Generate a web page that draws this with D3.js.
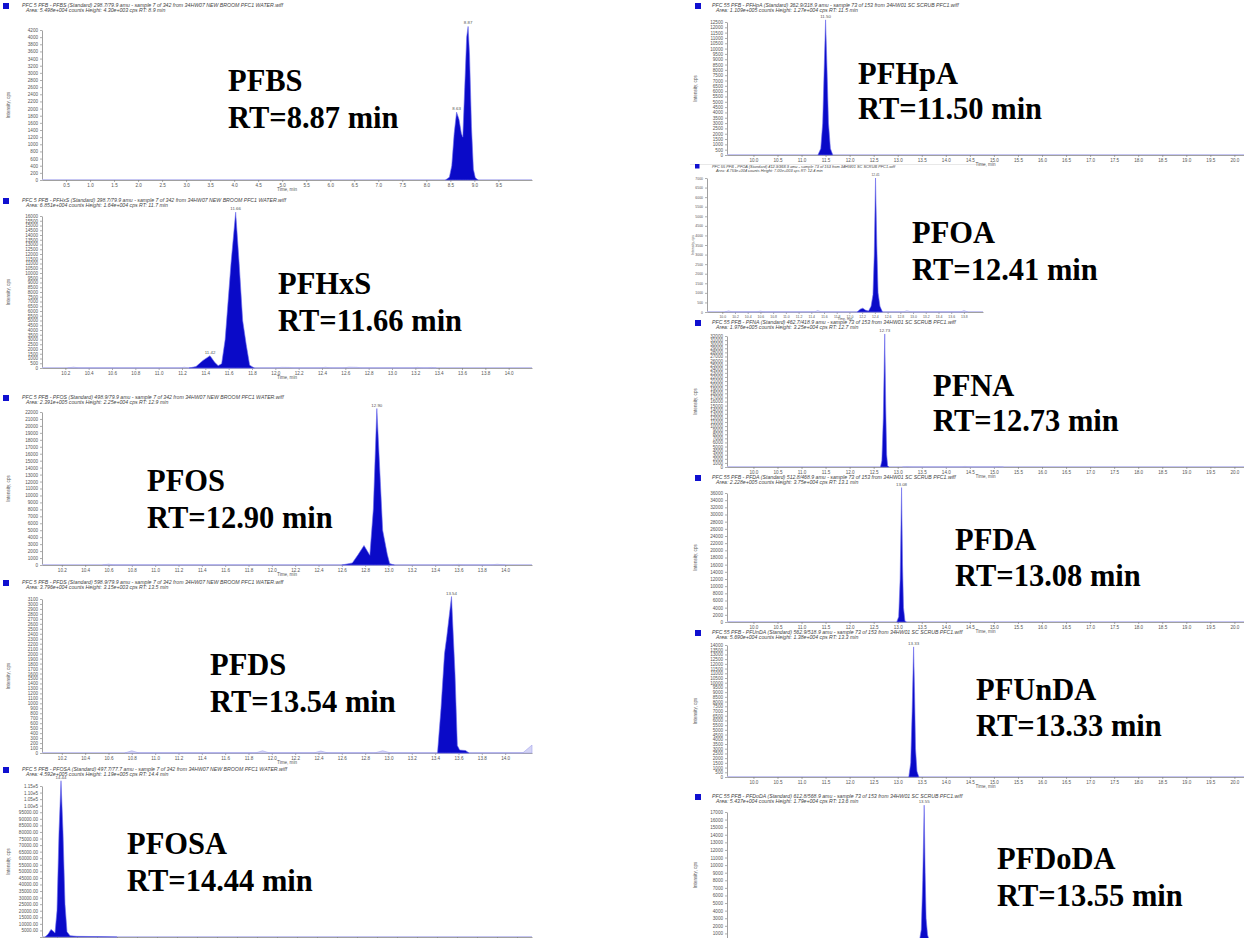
<!DOCTYPE html>
<html>
<head>
<meta charset="utf-8">
<script src="https://cdn.jsdelivr.net/npm/d3@7"></script>
<style>
  body { margin: 0; background: #fff; }
  svg { display: block; }
  .tick text { font-family: "Liberation Sans", Arial, sans-serif; fill: #555; }
  .tick line { stroke: #777; stroke-width: 0.6; }
  .domain { stroke: #888; stroke-width: 0.8; }
</style>
</head>
<body>
<svg id="chart" width="1244" height="938"></svg>
<script>
// compounds, in panel order (left column, then right column)
const compounds = ['PFBS', 'PFHxS', 'PFOS', 'PFDS', 'PFOSA',
                   'PFHpA', 'PFOA', 'PFNA', 'PFDA', 'PFUnDA', 'PFDoDA'];
const retention = ['8.87', '11.66', '12.90', '13.54', '14.44',
                   '11.50', '12.41', '12.73', '13.08', '13.33', '13.55'];

// time axis of each trace (min)
const xDomains = [[0, 10.2], [10, 14.2], [10.03, 14.23], [10.03, 14.23], [14.25, 19.15],
                  [9.45, 20.2], [9.76, 14.1], [9.45, 20.2], [9.45, 20.2], [9.45, 20.2], [9.45, 20.2]];
const xTickStart = [0.5, 10.2, 10.2, 10.2, 14.4, 10.0, 10.0, 10.0, 10.0, 10.0, 10.0];
const xTickEnd   = [9.5, 14.0, 14.0, 14.0, 19.0, 20.0, 13.8, 20.0, 20.0, 20.0, 20.0];
const xTickStep  = [0.5, 0.2, 0.2, 0.2, 0.2, 0.5, 0.2, 0.5, 0.5, 0.5, 0.5];

// intensity axis (cps)
const yTickMax  = [4200, 16000, 22000, 3100, 115000, 12500, 7000, 32000, 36000, 14000, 17000];
const yTickStep = [200, 500, 1000, 100, 5000, 500, 500, 1000, 2000, 500, 1000];

// peaks: [time, intensity]
const pfbsPeak = [[8.40,0],[8.48,80],[8.53,400],[8.58,1300],[8.63,1900],[8.68,1700],[8.73,1300],
  [8.76,1200],[8.80,2600],[8.84,4000],[8.87,4300],[8.90,3500],[8.94,1500],[8.98,300],[9.02,60],[9.08,0]];
const pfhxsPeak = [[11.26,0],[11.32,150],[11.38,800],[11.44,1300],[11.48,600],[11.51,250],[11.54,450],
  [11.57,3000],[11.62,11000],[11.66,16400],[11.69,11000],[11.72,5000],[11.75,2500],[11.78,300],[11.82,0]];
const pfosPeak = [[12.60,0],[12.69,300],[12.74,1500],[12.79,2800],[12.84,1400],[12.87,8000],[12.90,22500],
  [12.93,12000],[12.95,5000],[12.99,1500],[13.01,200],[13.05,0]];
const pfdsPeak = [[13.42,0],[13.45,900],[13.48,2000],[13.50,2350],[13.54,3150],[13.57,1600],[13.59,150],
  [13.61,60],[13.66,50],[13.69,0]];
const pfosaPeak = [[14.28,0],[14.31,2000],[14.34,5800],[14.36,4500],[14.38,3000],[14.40,20000],[14.42,80000],
  [14.44,119000],[14.46,80000],[14.48,25000],[14.50,4000],[14.53,1000],[14.60,500],[14.80,300],[15.00,0]];
const pfhpaPeak = [[11.34,0],[11.40,600],[11.44,3000],[11.47,8000],[11.50,12700],[11.53,8000],[11.56,3000],
  [11.60,600],[11.65,0]];
const pfoaPeak = [[12.12,0],[12.17,150],[12.21,200],[12.25,100],[12.30,50],[12.34,300],[12.37,900],
  [12.39,3000],[12.41,7000],[12.43,3500],[12.45,1000],[12.48,300],[12.52,0]];
const pfnaPeak = [[12.64,0],[12.67,1500],[12.70,12000],[12.73,32500],[12.75,15000],[12.77,3000],
  [12.79,300],[12.82,0]];
const pfdaPeak = [[12.98,0],[13.02,1500],[13.05,12000],[13.08,37500],[13.10,16000],[13.12,4000],
  [13.15,300],[13.18,0]];
const pfundaPeak = [[13.23,0],[13.27,1500],[13.30,7000],[13.33,13800],[13.35,9000],[13.37,3000],
  [13.40,600],[13.44,0]];
const pfdodaPeak = [[13.45,0],[13.49,1500],[13.52,8000],[13.55,17900],[13.57,9000],[13.59,3000],
  [13.62,800],[13.66,0]];
const peaks = [pfbsPeak, pfhxsPeak, pfosPeak, pfdsPeak, pfosaPeak,
               pfhpaPeak, pfoaPeak, pfnaPeak, pfdaPeak, pfundaPeak, pfdodaPeak];

// faint baseline bumps seen along the traces: [time, intensity]
const pfhxsNoise = [[10.22,0],[10.27,90],[10.32,0],[11.18,0],[11.22,80],[11.26,0],[12.0,0],[12.05,70],
  [12.12,60],[12.16,0],[12.38,0],[12.43,80],[12.48,0],[12.58,0],[12.63,90],[12.70,70],[12.74,0],
  [13.18,0],[13.22,70],[13.26,0],[13.30,0],[13.34,60],[13.38,0]];
const pfosNoise = [[10.55,0],[10.6,120],[10.65,0],[13.55,0],[13.6,90],[13.65,0],[13.88,0],[13.93,110],[14.0,0]];
const pfdsNoise = [[10.74,0],[10.8,45],[10.86,0],[11.86,0],[11.92,45],[11.98,0],[12.36,0],[12.42,40],
  [12.48,0],[12.88,0],[12.95,45],[13.02,0],[14.15,0],[14.23,160]];
const pfoaNoise = [[10.04,0],[10.1,60],[10.16,0],[10.54,0],[10.6,50],[10.66,0],[11.45,0],[11.5,80],
  [11.56,0],[12.85,0],[12.9,70],[12.98,0],[13.75,0],[13.8,80],[13.86,0]];
const pfnaNoise = [[13.1,0],[13.2,120],[13.3,0],[14.3,0],[14.4,150],[14.5,0],[15.0,0],[15.1,120],[15.2,0]];
const noises = [[], pfhxsNoise, pfosNoise, pfdsNoise, [], [], pfoaNoise, pfnaNoise, [], [], []];

// apex annotations: [time, intensity, label]
const apexLabels = [
  [[8.63, 1900, '8.63'], [8.87, 4300, '8.87']],
  [[11.44, 1300, '11.42'], [11.66, 16400, '11.66']],
  [[12.90, 22500, '12.90']],
  [[13.54, 3150, '13.54']],
  [[14.44, 119000, '14.44']],
  [[11.50, 12700, '11.50']],
  [[12.41, 7000, '12.41']],
  [[12.73, 32500, '12.73']],
  [[13.08, 37500, '13.08']],
  [[13.33, 13800, '13.33']],
  [[13.55, 17900, '13.55']]
];

const transitions = ['298.7/79.9', '398.7/79.9', '498.9/79.9', '598.9/79.9', '497.7/77.7',
                     '362.9/318.9', '412.9/368.9', '462.7/418.9', '512.8/468.9', '562.9/518.9', '612.8/568.9'];
const areas = ['5.498e+004', '6.851e+004', '2.391e+005', '3.796e+004', '4.592e+005',
               '1.109e+005', '4.759e+004', '1.976e+005', '2.228e+005', '5.690e+004', '5.437e+004'];

// panel placement on the page (fs = text scale of the screenshot)
const layout = [
  {left: 42, right: 532, top: 30, base: 180, head: 6, tx: 228, ty: 91, ty2: 128, lab: 10, fs: 1},
  {left: 42, right: 532, top: 216, base: 368, head: 201, tx: 278, ty: 294, ty2: 331, lab: 10, fs: 1},
  {left: 42, right: 532, top: 412, base: 565, head: 398, tx: 147, ty: 491, ty2: 528, lab: 10, fs: 1},
  {left: 42, right: 532, top: 599, base: 753, head: 583, tx: 210, ty: 675, ty2: 712, lab: 10, fs: 1},
  {left: 42, right: 532, top: 786, base: 937, head: 770, tx: 127, ty: 854, ty2: 891, lab: 10, fs: 1},
  {left: 727, right: 1244, top: 22, base: 155, head: 6, tx: 858, ty: 84, ty2: 119, lab: 697, fs: 1},
  {left: 707, right: 983, top: 178, base: 312, head: 167, tx: 912, ty: 243, ty2: 280, lab: 694, fs: 0.75},
  {left: 727, right: 1244, top: 336, base: 467, head: 323, tx: 933, ty: 396, ty2: 431, lab: 697, fs: 1},
  {left: 727, right: 1244, top: 493, base: 622, head: 478, tx: 955, ty: 550, ty2: 586, lab: 697, fs: 1},
  {left: 727, right: 1244, top: 645, base: 777, head: 633, tx: 976, ty: 700, ty2: 736, lab: 697, fs: 1},
  {left: 727, right: 1244, top: 812, base: 941, head: 797, tx: 997, ty: 869, ty2: 906, lab: 697, fs: 1}
];

const svg = d3.select('#chart');

// faint frame of the smaller PFOA screenshot
svg.append('line')
  .attr('x1', 690).attr('x2', 986).attr('y1', 164.5).attr('y2', 164.5)
  .attr('stroke', '#e2e2e2').attr('stroke-width', 0.8);

compounds.forEach(function(name, i) {
  drawPanel(i, name, layout[i]);
});

function yFormat(i) {
  if (i === 4) {
    return v => v >= 100000 ? d3.format('.2e')(v).replace('e+', 'e') : d3.format('.2f')(v);
  }
  return d3.format('d');
}

function drawPanel(i, name, box) {
  let g = svg.append('g').attr('class', 'panel');
  let x = d3.scaleLinear().domain(xDomains[i]).range([box.left, box.right]);
  let y = d3.scaleLinear().domain([0, yTickMax[i]]).range([box.base, box.top]);
  let left = box.left < 700;
  let fs = box.fs;
  let visible = box.base + 8 < 938;

  // header lines of the screenshot
  g.append('rect')
    .attr('x', left ? 3 : 695).attr('y', box.head - 3)
    .attr('width', 6 * fs).attr('height', 6 * fs)
    .attr('fill', '#1010d0');
  let hx = left ? 22 : 712;
  let src = left ? 'sample 7 of 342 from 34HW07 NEW BROOM PFC1 WATER.wiff'
                 : 'sample 73 of 153 from 34HW01 SC SCRUB PFC1.wiff';
  let hdr = g.append('text')
    .attr('font-family', 'Liberation Sans, Arial, sans-serif')
    .attr('font-size', 5.2 * fs).attr('font-style', 'italic').attr('fill', '#444');
  hdr.append('tspan').attr('x', hx).attr('y', box.head + 1)
    .text((left ? 'PFC 5 PFB - ' : 'PFC 55 PFB - ') + name + ' (Standard) ' + transitions[i] + ' amu - ' + src);
  hdr.append('tspan').attr('x', hx + 4).attr('y', box.head + 1 + 5 * fs)
    .text('Area: ' + areas[i] + ' counts   Height: ' +
          d3.format('.2e')(peaks[i].reduce((m, d) => Math.max(m, d[1]), 0)).replace('e+', 'e+00') +
          ' cps   RT: ' + (+retention[i]).toFixed(1) + ' min');

  // axes (ticks that fall past the page bottom keep no label)
  let yTicks = d3.range(0, yTickMax[i] + yTickStep[i] / 2, yTickStep[i]);
  let yAxis = g.append('g')
    .attr('transform', 'translate(' + box.left + ',0)')
    .style('font-size', (4.6 * fs) + 'px')
    .call(d3.axisLeft(y).tickValues(yTicks).tickFormat(yFormat(i)).tickSize(2).tickSizeOuter(0).tickPadding(2));
  yAxis.selectAll('.tick').filter(d => y(d) > 934).select('text').remove();

  let xTicks = d3.range(xTickStart[i], xTickEnd[i] + xTickStep[i] / 2, xTickStep[i]);
  let xAxis = g.append('g')
    .attr('transform', 'translate(0,' + box.base + ')')
    .style('font-size', (4.6 * fs) + 'px')
    .call(d3.axisBottom(x).tickValues(xTicks).tickFormat(d3.format('.1f')).tickSize(2).tickSizeOuter(0).tickPadding(1.5));
  if (!visible) xAxis.selectAll('.tick text').remove();

  if (visible) {
    g.append('text')
      .attr('x', (box.left + box.right) / 2).attr('y', box.base + 11 * fs)
      .attr('text-anchor', 'middle')
      .attr('font-family', 'Liberation Sans, Arial, sans-serif')
      .attr('font-size', 4.6 * fs).attr('fill', '#555')
      .text('Time, min');
  }

  g.append('text')
    .attr('transform', 'translate(' + box.lab + ',' + (box.top + Math.min(box.base, 938)) / 2 + ') rotate(-90)')
    .attr('text-anchor', 'middle')
    .attr('font-family', 'Liberation Sans, Arial, sans-serif')
    .attr('font-size', 4.6 * fs).attr('fill', '#555')
    .text('Intensity, cps');

  // baseline trace and faint bumps
  g.append('line')
    .attr('x1', box.left).attr('x2', box.right)
    .attr('y1', y(0) - 0.5).attr('y2', y(0) - 0.5)
    .attr('stroke', '#b8b8f0').attr('stroke-width', 0.8);

  let area = d3.area()
    .x(d => x(d[0]))
    .y0(y(0))
    .y1(d => y(d[1]));

  if (noises[i].length) {
    g.append('path')
      .datum(noises[i])
      .attr('d', area)
      .attr('fill', '#d4d4f6')
      .attr('stroke', '#a4a4ec')
      .attr('stroke-width', 0.6);
  }

  // peak
  g.append('path')
    .datum(peaks[i])
    .attr('d', area)
    .attr('fill', '#0a0ac8')
    .attr('stroke', '#6c6cee')
    .attr('stroke-width', 0.6);

  g.selectAll('.apex')
    .data(apexLabels[i])
    .enter()
    .append('text')
    .attr('x', d => x(d[0]))
    .attr('y', d => y(d[1]) - 2)
    .attr('text-anchor', 'middle')
    .attr('font-family', 'Liberation Sans, Arial, sans-serif')
    .attr('font-size', 4.4 * fs).attr('fill', '#555')
    .text(d => d[2]);

  // compound name and retention time
  let lbl = g.append('text')
    .attr('font-family', 'Liberation Serif, Times New Roman, serif')
    .attr('font-weight', 'bold').attr('font-size', 30.5).attr('fill', '#000');
  lbl.append('tspan').attr('x', box.tx).attr('y', box.ty).text(name);
  lbl.append('tspan').attr('x', box.tx).attr('y', box.ty2).text('RT=' + retention[i] + ' min');
}
</script>
</body>
</html>
